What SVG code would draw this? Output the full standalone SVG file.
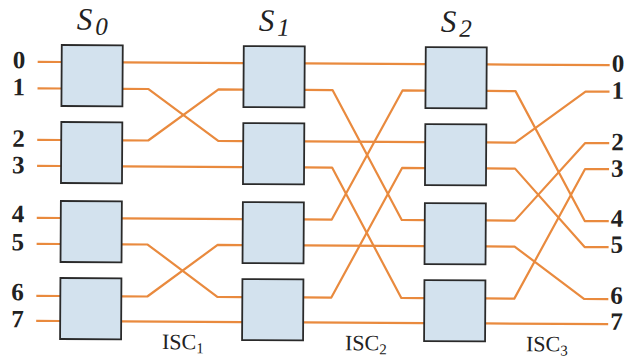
<svg xmlns="http://www.w3.org/2000/svg" width="632" height="360" viewBox="0 0 632 360">
<style>
.box{fill:#d3e2ee;stroke:#2a2a2a;stroke-width:1.8}
.wire{fill:none;stroke:#e98a3e;stroke-width:2.2;stroke-linejoin:round}
.num{font-family:"Liberation Serif","Times New Roman",serif;font-weight:bold;font-size:25px;fill:#222}
.stage{font-family:"Liberation Serif","Times New Roman",serif;font-style:italic;font-size:31px;fill:#222}
.isc{font-family:"Liberation Serif","Times New Roman",serif;font-size:22px;fill:#222}
</style>
<rect width="632" height="360" fill="#ffffff"/>
<g transform="rotate(0.33 320 180)">
<g id="connectors" class="wire">
<path d="M37 63.5H61M37 90H61M37 141.5H61M37 167.5H61M37 219.5H61M37 245.5H61M37 297.5H61M37 322.5H61"/>
<path d="M122 63.5H243M122 167.5H243M122 219.5H243M122 322.5H243"/>
<path d="M122 90H148L218 141.5H243"/>
<path d="M122 141.5H148L218 90H243"/>
<path d="M122 245.5H148L218 297.5H243"/>
<path d="M122 297.5H148L218 245.5H243"/>
<path d="M304 63.5H425M304 141.5H425M304 245.5H425M304 322.5H425"/>
<path d="M304 90H332L402 219.5H425"/>
<path d="M304 167.5H332L402 297.5H425"/>
<path d="M304 219.5H332L402 90H425"/>
<path d="M304 297.5H332L402 167.5H425"/>
<path d="M486 63.5H609M486 322.5H609"/>
<path d="M486 90H515L585 219.5H609"/>
<path d="M486 141.5H515L585 90H609"/>
<path d="M486 167.5H515L585 245.5H609"/>
<path d="M486 219.5H515L585 141.5H609"/>
<path d="M486 245.5H515L585 297.5H609"/>
<path d="M486 297.5H515L585 167.5H609"/>
</g>
<g id="s0-sw0"><rect class="box" x="61" y="46.5" width="61" height="61"/></g>
<g id="s0-sw1"><rect class="box" x="61" y="123.5" width="61" height="61"/></g>
<g id="s0-sw2"><rect class="box" x="61" y="202.5" width="61" height="61"/></g>
<g id="s0-sw3"><rect class="box" x="61" y="279.5" width="61" height="61"/></g>
<g id="s1-sw0"><rect class="box" x="243" y="46.5" width="61" height="61"/></g>
<g id="s1-sw1"><rect class="box" x="243" y="123.5" width="61" height="61"/></g>
<g id="s1-sw2"><rect class="box" x="243" y="202.5" width="61" height="61"/></g>
<g id="s1-sw3"><rect class="box" x="243" y="279.5" width="61" height="61"/></g>
<g id="s2-sw0"><rect class="box" x="425" y="46.5" width="61" height="61"/></g>
<g id="s2-sw1"><rect class="box" x="425" y="123.5" width="61" height="61"/></g>
<g id="s2-sw2"><rect class="box" x="425" y="202.5" width="61" height="61"/></g>
<g id="s2-sw3"><rect class="box" x="425" y="279.5" width="61" height="61"/></g>
<g id="stage-labels">
<text class="stage" x="76" y="31">S<tspan font-size="25" dx="3" dy="5">0</tspan></text>
<text class="stage" x="258" y="31">S<tspan font-size="25" dx="3" dy="5">1</tspan></text>
<text class="stage" x="440" y="31">S<tspan font-size="25" dx="3" dy="5">2</tspan></text>
</g>
<g id="inputs">
<text class="num" x="12" y="70">0</text>
<text class="num" x="12" y="97">1</text>
<text class="num" x="12" y="148.5">2</text>
<text class="num" x="12" y="175">3</text>
<text class="num" x="12" y="224">4</text>
<text class="num" x="12" y="252">5</text>
<text class="num" x="12" y="302">6</text>
<text class="num" x="12" y="329">7</text>
</g>
<g id="outputs">
<text class="num" x="611" y="70">0</text>
<text class="num" x="611" y="97">1</text>
<text class="num" x="611" y="148.5">2</text>
<text class="num" x="611" y="175">3</text>
<text class="num" x="611" y="225">4</text>
<text class="num" x="611" y="251">5</text>
<text class="num" x="611" y="302">6</text>
<text class="num" x="611" y="328">7</text>
</g>
<g id="isc-labels">
<text class="isc" x="163" y="350">ISC<tspan font-size="15" dy="4">1</tspan></text>
<text class="isc" x="346" y="350">ISC<tspan font-size="15" dy="4">2</tspan></text>
<text class="isc" x="527" y="350">ISC<tspan font-size="15" dy="4">3</tspan></text>
</g>
</g>
</svg>
